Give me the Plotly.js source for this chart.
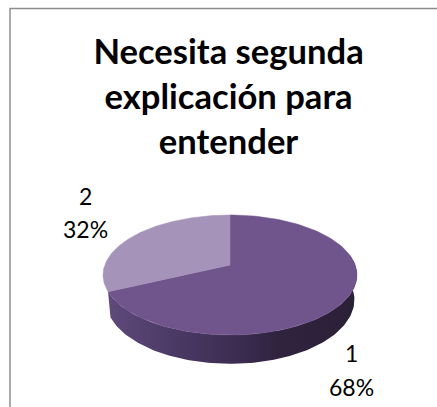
<!DOCTYPE html>
<html>
<head>
<meta charset="utf-8">
<script src="https://cdn.plot.ly/plotly-3.0.1.min.js"></script>
<style>html,body{margin:0;padding:0;background:#fff}#chart{width:437px;height:407px}</style>
</head>
<body>
<div id="chart"></div>
<script>
var categories = ["1", "2"];
var shares = [68, 32];
var sliceColors = ["#70548c", "#a593b9"];
var chartTitle = "Necesita segunda<br>explicación para<br>entender";

// Perspective projection of a unit disc (u right, v towards the viewer).
var cx = 230, cy = 265, scaleX = 125.2, scaleY = 58.33, persp = -1 / 6;
function rim(turn, drop, shrink) {
  var a = turn * 2 * Math.PI, u = Math.sin(a), v = -Math.cos(a), d = 1 + persp * v;
  return [cx + shrink * scaleX * u / d, cy + scaleY * v / d + drop / d];
}
function arc(from, to, drop, shrink) {
  var pts = [], n = 120;
  for (var i = 0; i <= n; i++) pts.push(rim(from + (to - from) * i / n, drop, shrink));
  return pts;
}
function xs(p) { return p.map(function (q) { return q[0]; }); }
function ys(p) { return p.map(function (q) { return q[1]; }); }

var total = shares.reduce(function (a, b) { return a + b; }, 0);
var firstEnd = shares[0] / total;
var traces = [];

// side wall of the first slice: visible from the right-most rim point to its end
var wallStart = 0.25 - 0.027;
var upperRim = arc(wallStart, firstEnd, 0, 1);
var lowerRim = arc(firstEnd, wallStart, 24, 0.98);
var wall = upperRim.concat(lowerRim);
wall.push(wall[0]);
traces.push({
  type: "scatter", mode: "lines", x: xs(wall), y: ys(wall), fill: "toself",
  line: { width: 0 }, hoverinfo: "skip", showlegend: false,
  fillgradient: {
    type: "horizontal",
    colorscale: [[0, "#5f4a7b"], [0.25, "#4c3a66"], [0.55, "#3a2b4e"], [0.68, "#30233f"], [1, "#2a2036"]]
  }
});

// top faces
var start = 0;
shares.forEach(function (v, i) {
  var end = start + v / total;
  var p = [[cx, cy]].concat(arc(start, end, 0, 1));
  p.push([cx, cy]);
  traces.push({
    type: "scatter", mode: "lines", x: xs(p), y: ys(p), fill: "toself",
    fillcolor: sliceColors[i], line: { width: 0.5, color: sliceColors[i] },
    name: categories[i], showlegend: false, hoverinfo: "name"
  });
  start = end;
});

var labelFont = { family: "Lato, Carlito, sans-serif", size: 23, color: "#000" };
function note(text, x, y) {
  return {
    xref: "x", yref: "y", x: x, y: y, xanchor: "center", yanchor: "middle", showarrow: false,
    text: text, font: labelFont, align: "center"
  };
}

var layout = {
  width: 437, height: 407,
  margin: { l: 0, r: 0, t: 0, b: 0 },
  paper_bgcolor: "#fff", plot_bgcolor: "#fff",
  showlegend: false,
  title: {
    text: chartTitle,
    font: { family: "Lato, Carlito, sans-serif", size: 34.6, color: "#000", weight: 700 },
    x: 0.523, xanchor: "center", y: 0.8425, yanchor: "top"
  },
  xaxis: { range: [0, 437], visible: false, fixedrange: true },
  yaxis: { range: [407, 0], visible: false, fixedrange: true },
  annotations: [
    note(categories[0], 351, 353), note(shares[0] + "%", 351, 387),
    note(categories[1], 85, 196), note(shares[1] + "%", 85, 229)
  ],
  shapes: [
    { type: "line", xref: "x", yref: "y", x0: 9.5, x1: 437, y0: 8.5, y1: 8.5, line: { color: "#8c8c8c", width: 1.5 } },
    { type: "line", xref: "x", yref: "y", x0: 10, x1: 10, y0: 8.5, y1: 407, line: { color: "#8c8c8c", width: 1.5 } }
  ]
};
Plotly.newPlot("chart", traces, layout, { displayModeBar: false, staticPlot: true });
</script>
</body>
</html>
